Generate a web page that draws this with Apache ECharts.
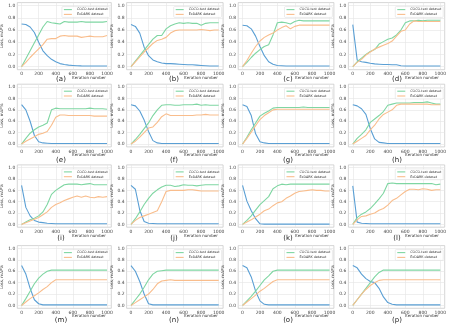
<!DOCTYPE html>
<html><head><meta charset="utf-8">
<script src="https://cdn.jsdelivr.net/npm/echarts@6/dist/echarts.min.js"></script>
<style>html,body{margin:0;padding:0;background:#fff}#c{width:449px;height:324px}</style>
</head><body><div id="c"></div>
<script>
// ---------- data ----------
const iterations = [0,50,100,150,200,250,300,350,400,450,500,550,600,650,700,750,800,850,900,950,1000];
const xTicks = [0,200,400,600,800,1000];
const yTicks = [0,0.2,0.4,0.6,0.8,1.0];
const captions = ['(a)','(b)','(c)','(d)','(e)','(f)','(g)','(h)','(i)','(j)','(k)','(l)','(m)','(n)','(o)','(p)'];
const nameLoss = 'Loss';
const nameCoco = 'COCO-test dataset';
const nameEx = 'ExDARK dataset';
const yAxisTitle = 'Loss, mAP%';
const xAxisTitle = 'Iteration number';

const lossA = [0.70,0.69,0.65,0.56,0.40,0.26,0.18,0.12,0.08,0.05,0.035,0.025,0.02,0.015,0.012,0.01,0.01,0.01,0.01,0.01,0.01];
const cocoA = [0,0.13,0.26,0.39,0.52,0.65,0.74,0.72,0.71,0.70,0.74,0.73,0.73,0.73,0.74,0.73,0.73,0.73,0.73,0.73,0.74];
const exA   = [0,0.07,0.15,0.22,0.29,0.36,0.45,0.46,0.46,0.50,0.51,0.50,0.50,0.50,0.48,0.49,0.50,0.49,0.49,0.49,0.51];

const lossB = [0.69,0.66,0.55,0.32,0.18,0.11,0.08,0.06,0.05,0.05,0.045,0.04,0.035,0.03,0.03,0.025,0.02,0.015,0.01,0.01,0.01];
const cocoB = [0,0.09,0.18,0.27,0.36,0.45,0.51,0.51,0.62,0.67,0.70,0.72,0.71,0.72,0.71,0.71,0.68,0.71,0.72,0.72,0.72];
const exB   = [0,0.08,0.16,0.24,0.31,0.38,0.43,0.45,0.48,0.55,0.59,0.60,0.60,0.60,0.60,0.60,0.61,0.60,0.59,0.60,0.60];

const lossC = [0.68,0.67,0.62,0.50,0.33,0.18,0.08,0.04,0.02,0.015,0.01,0.01,0.01,0.01,0.01,0.01,0.01,0.01,0.01,0.01,0.01];
const cocoC = [0,0.07,0.15,0.22,0.28,0.33,0.36,0.52,0.72,0.73,0.72,0.70,0.74,0.76,0.75,0.75,0.75,0.75,0.75,0.75,0.75];
const exC   = [0,0.10,0.22,0.33,0.42,0.48,0.52,0.55,0.60,0.64,0.67,0.62,0.66,0.68,0.68,0.68,0.68,0.68,0.68,0.68,0.68];

const lossD = [0.69,0.11,0.08,0.07,0.055,0.045,0.04,0.035,0.035,0.03,0.03,0.015,0.01,0.01,0.01,0.01,0.01,0.01,0.01,0.01,0.01];
const cocoD = [0,0.08,0.14,0.20,0.25,0.28,0.37,0.41,0.45,0.47,0.52,0.60,0.72,0.75,0.75,0.76,0.75,0.76,0.76,0.76,0.76];
const exD   = [0,0.07,0.12,0.19,0.24,0.29,0.32,0.35,0.38,0.42,0.50,0.58,0.60,0.70,0.75,0.74,0.74,0.74,0.74,0.74,0.74];

const lossE = [0.69,0.60,0.40,0.15,0.04,0.02,0.015,0.01,0.01,0.01,0.01,0.01,0.01,0.01,0.01,0.01,0.01,0.01,0.01,0.01,0.01];
const cocoE = [0,0.10,0.19,0.25,0.30,0.33,0.37,0.60,0.63,0.62,0.62,0.62,0.62,0.62,0.62,0.62,0.63,0.62,0.62,0.62,0.61];
const exE   = [0,0.05,0.09,0.13,0.17,0.19,0.22,0.33,0.47,0.51,0.51,0.50,0.50,0.50,0.50,0.50,0.50,0.49,0.49,0.49,0.49];

const lossF = [0.69,0.67,0.58,0.42,0.22,0.06,0.02,0.01,0.01,0.01,0.01,0.01,0.01,0.01,0.01,0.01,0.01,0.01,0.01,0.01,0.01];
const cocoF = [0,0.08,0.17,0.27,0.37,0.50,0.60,0.68,0.69,0.69,0.68,0.68,0.69,0.69,0.69,0.70,0.68,0.69,0.68,0.68,0.68];
const exF   = [0,0.05,0.12,0.20,0.28,0.30,0.38,0.48,0.53,0.50,0.50,0.50,0.50,0.50,0.50,0.51,0.51,0.52,0.51,0.51,0.51];

const lossG = [0.69,0.66,0.50,0.18,0.04,0.02,0.01,0.01,0.01,0.01,0.01,0.01,0.01,0.01,0.01,0.01,0.01,0.01,0.01,0.01,0.01];
const cocoG = [0,0.12,0.25,0.37,0.49,0.54,0.58,0.63,0.64,0.64,0.64,0.64,0.64,0.64,0.65,0.64,0.64,0.64,0.64,0.64,0.64];
const exG   = [0,0.10,0.21,0.32,0.43,0.50,0.55,0.60,0.61,0.61,0.61,0.61,0.61,0.61,0.61,0.61,0.61,0.61,0.61,0.61,0.61];

const lossH = [0.69,0.67,0.62,0.52,0.27,0.09,0.03,0.02,0.01,0.01,0.01,0.01,0.01,0.01,0.01,0.01,0.01,0.01,0.01,0.01,0.01];
const cocoH = [0,0.10,0.17,0.25,0.38,0.44,0.50,0.57,0.68,0.70,0.72,0.72,0.72,0.72,0.73,0.73,0.73,0.74,0.72,0.70,0.70];
const exH   = [0,0.05,0.10,0.15,0.25,0.33,0.44,0.52,0.56,0.60,0.68,0.70,0.70,0.70,0.70,0.70,0.70,0.70,0.69,0.69,0.69];

const lossI = [0.69,0.30,0.15,0.07,0.04,0.03,0.02,0.015,0.01,0.01,0.01,0.01,0.01,0.01,0.01,0.01,0.01,0.01,0.01,0.01,0.01];
const cocoI = [0,0.04,0.08,0.11,0.15,0.22,0.35,0.53,0.60,0.65,0.70,0.71,0.71,0.71,0.70,0.71,0.72,0.70,0.70,0.70,0.70];
const exI   = [0,0.03,0.06,0.09,0.12,0.17,0.22,0.30,0.35,0.38,0.42,0.45,0.48,0.50,0.48,0.50,0.48,0.47,0.49,0.48,0.49];

const lossJ = [0.69,0.62,0.25,0.05,0.02,0.015,0.01,0.01,0.01,0.01,0.01,0.01,0.01,0.01,0.01,0.01,0.01,0.01,0.01,0.01,0.01];
const cocoJ = [0,0.10,0.22,0.35,0.46,0.55,0.61,0.66,0.69,0.69,0.67,0.68,0.70,0.69,0.69,0.68,0.69,0.70,0.70,0.70,0.70];
const exJ   = [0,0.07,0.12,0.15,0.18,0.21,0.24,0.40,0.58,0.60,0.60,0.60,0.60,0.61,0.61,0.60,0.59,0.59,0.59,0.59,0.59];

const lossK = [0.69,0.41,0.24,0.10,0.01,0.005,0.005,0.005,0.005,0.005,0.005,0.005,0.005,0.005,0.005,0.005,0.005,0.005,0.005,0.005,0.005];
const cocoK = [0,0.07,0.15,0.25,0.35,0.42,0.49,0.63,0.68,0.71,0.70,0.71,0.71,0.71,0.71,0.71,0.71,0.71,0.71,0.71,0.71];
const exK   = [0,0.04,0.08,0.13,0.18,0.24,0.27,0.33,0.38,0.40,0.46,0.50,0.55,0.58,0.59,0.60,0.61,0.60,0.60,0.59,0.59];

const lossL = [0.68,0.04,0.02,0.015,0.01,0.01,0.01,0.01,0.01,0.01,0.01,0.01,0.01,0.01,0.01,0.01,0.01,0.01,0.01,0.01,0.01];
const cocoL = [0,0.12,0.18,0.22,0.28,0.36,0.45,0.55,0.72,0.73,0.72,0.72,0.72,0.72,0.72,0.72,0.72,0.72,0.72,0.70,0.71];
const exL   = [0,0.08,0.14,0.15,0.18,0.20,0.25,0.28,0.34,0.42,0.46,0.52,0.58,0.62,0.62,0.61,0.63,0.62,0.60,0.61,0.61];

const lossM = [0.70,0.55,0.30,0.10,0.03,0.01,0.01,0.01,0.01,0.01,0.01,0.01,0.01,0.01,0.01,0.01,0.01,0.01,0.01,0.01,0.01];
const cocoM = [0,0.12,0.25,0.38,0.48,0.55,0.60,0.62,0.62,0.62,0.62,0.62,0.62,0.62,0.62,0.62,0.62,0.62,0.62,0.62,0.62];
const exM   = [0,0.06,0.12,0.17,0.22,0.28,0.33,0.40,0.45,0.45,0.45,0.45,0.45,0.45,0.45,0.45,0.45,0.45,0.45,0.45,0.45];

const lossN = [0.70,0.60,0.42,0.20,0.03,0.01,0.01,0.01,0.01,0.01,0.01,0.01,0.01,0.01,0.01,0.01,0.01,0.01,0.01,0.01,0.01];
const cocoN = [0,0.10,0.20,0.32,0.45,0.55,0.60,0.61,0.62,0.62,0.62,0.62,0.62,0.62,0.62,0.62,0.62,0.62,0.62,0.62,0.62];
const exN   = [0,0.05,0.10,0.15,0.20,0.28,0.38,0.43,0.44,0.45,0.44,0.44,0.44,0.44,0.44,0.44,0.44,0.44,0.44,0.44,0.44];

const lossO = [0.70,0.66,0.50,0.25,0.08,0.02,0.01,0.01,0.01,0.01,0.01,0.01,0.01,0.01,0.01,0.01,0.01,0.01,0.01,0.01,0.01];
const cocoO = [0,0.08,0.16,0.25,0.35,0.45,0.52,0.60,0.62,0.62,0.62,0.62,0.62,0.62,0.62,0.62,0.62,0.62,0.62,0.62,0.62];
const exO   = [0,0.06,0.12,0.18,0.25,0.30,0.36,0.42,0.45,0.45,0.45,0.45,0.45,0.45,0.45,0.45,0.45,0.45,0.45,0.45,0.45];

const lossP = [0.70,0.66,0.55,0.47,0.42,0.40,0.30,0.15,0.05,0.02,0.01,0.01,0.01,0.01,0.01,0.01,0.01,0.01,0.01,0.01,0.01];
const cocoP = [0,0.10,0.20,0.30,0.40,0.50,0.58,0.62,0.62,0.62,0.62,0.62,0.62,0.62,0.62,0.62,0.62,0.62,0.62,0.62,0.62];
const exP   = [0,0.10,0.20,0.28,0.35,0.40,0.44,0.45,0.45,0.45,0.45,0.45,0.45,0.45,0.45,0.45,0.45,0.45,0.45,0.45,0.45];

const lossSets = [lossA,lossB,lossC,lossD,lossE,lossF,lossG,lossH,lossI,lossJ,lossK,lossL,lossM,lossN,lossO,lossP];
const cocoSets = [cocoA,cocoB,cocoC,cocoD,cocoE,cocoF,cocoG,cocoH,cocoI,cocoJ,cocoK,cocoL,cocoM,cocoN,cocoO,cocoP];
const exSets   = [exA,exB,exC,exD,exE,exF,exG,exH,exI,exJ,exK,exL,exM,exN,exO,exP];

// ---------- layout ----------
const W = 449;
const colLeft = [17.3, 126.6, 238.2, 348.4];
const colWidth = [94, 96.5, 95.7, 96.3];
const rowTop = [2.6, 84.2, 164.9, 245.6];
const rowHeight = [67.1, 62.7, 62.3, 62.7];
const yNameGap = [11, 9.5, 8.5, 8.5];
const capX = [61, 174, 288, 397];
const xNameX = [72, 184, 295, 405];
const xNameY = [78, 155.5, 236.5, 316.5];
const capY = [79.5, 160, 238, 320];

const C_LOSS = '#5a9fd4', C_COCO = '#7fd6a2', C_EX = '#f9bd8c';
const FONT = 'DejaVu Sans';

const grid = [], xAxis = [], yAxis = [], series = [], legend = [], graphic = [];
for (let i = 0; i < 16; i++) {
  const r = Math.floor(i / 4), c = i % 4;
  const left = colLeft[c], top = rowTop[r], w = colWidth[c], h = rowHeight[r];
  grid.push({left, top, width: w, height: h, show: true, borderColor: '#c4c4c4', borderWidth: 0.7,
    backgroundColor: '#fff', outerBoundsMode: 'none', containLabel: false});
  xAxis.push({gridIndex: i, type: 'value', min: -50, max: 1050,
    axisLine: {show: false},
    axisTick: {show: false, customValues: xTicks},
    axisLabel: {customValues: xTicks, fontSize: 4.5, color: '#444', margin: 2, fontFamily: FONT,
      formatter: v => String(Math.round(v))},
    splitLine: {show: true, lineStyle: {color: '#e4e4e4', width: 0.6}}});
  yAxis.push({gridIndex: i, type: 'value', min: -0.05, max: 1.05,
    name: yAxisTitle, nameLocation: 'middle', nameRotate: 90, nameGap: yNameGap[c],
    nameTextStyle: {fontSize: 4, color: '#333', fontFamily: FONT},
    axisLine: {show: false},
    axisTick: {show: false, customValues: yTicks},
    axisLabel: {customValues: yTicks, fontSize: 4.5, color: '#444', margin: 2, fontFamily: FONT,
      formatter: v => Number(v).toFixed(1)},
    splitLine: {show: true, lineStyle: {color: '#e4e4e4', width: 0.6}}});
  const mk = (arr) => iterations.map((x, k) => [x, arr[k]]);
  const base = {type: 'line', xAxisIndex: i, yAxisIndex: i, showSymbol: false, symbol: 'none',
    animation: false, silent: true};
  series.push(Object.assign({}, base, {name: nameLoss, data: mk(lossSets[i]), color: C_LOSS, lineStyle: {width: 1.1, color: C_LOSS}}));
  series.push(Object.assign({}, base, {name: nameCoco, data: mk(cocoSets[i]), color: C_COCO, lineStyle: {width: 1.1, color: C_COCO}}));
  series.push(Object.assign({}, base, {name: nameEx, data: mk(exSets[i]), color: C_EX, lineStyle: {width: 1.1, color: C_EX}}));
  legend.push({data: [{name: nameCoco, itemStyle: {color: C_COCO}}, {name: nameEx, itemStyle: {color: C_EX}}],
    orient: 'vertical', selectedMode: false,
    right: W - (left + w) + 1.5, top: top + 4,
    icon: 'rect', itemWidth: 8, itemHeight: 1.1, itemGap: 1.8,
    textStyle: {fontSize: 3.3, color: '#333', fontFamily: FONT},
    padding: [1.5, 2, 1.5, 2], borderColor: '#d8d8d8', borderWidth: 0.5, borderRadius: 1,
    backgroundColor: 'rgba(255,255,255,0.85)'});
  graphic.push({type: 'text', left: xNameX[c], top: xNameY[r] - 2.5,
    style: {text: xAxisTitle, fontSize: 4, fill: '#333', fontFamily: FONT}});
  graphic.push({type: 'text', x: capX[c], y: capY[r],
    style: {text: captions[i], fontSize: 7, fill: '#222', fontFamily: FONT, align: 'center', verticalAlign: 'middle'}});
}

const chart = echarts.init(document.getElementById('c'), null, {renderer: 'canvas'});
chart.setOption({animation: false, backgroundColor: '#fff', grid, xAxis, yAxis, series, legend, graphic});
</script>
</body></html>
